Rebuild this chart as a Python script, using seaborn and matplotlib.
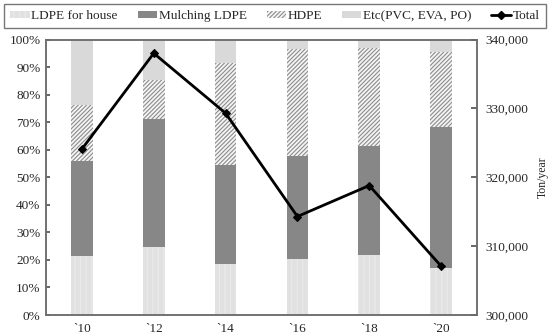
import numpy as np
import pandas as pd
import matplotlib
matplotlib.use("Agg")
import matplotlib.pyplot as plt
import seaborn as sns
from matplotlib.patches import Patch
from matplotlib.lines import Line2D

years = ["`10", "`12", "`14", "`16", "`18", "`20"]
ldpe_house = [21.5, 24.8, 18.4, 20.2, 21.6, 17.2]
mulching_ldpe = [34.5, 46.3, 36.1, 37.6, 39.9, 51.1]
hdpe = [20.4, 14.1, 37.0, 38.9, 35.5, 27.1]
etc = [23.6, 14.8, 8.5, 3.3, 3.0, 4.6]
total = [324100, 338000, 329300, 314300, 318800, 307100]

sns.set_theme(style="white")
plt.rcParams["font.family"] = ["Liberation Serif", "DejaVu Serif"]
plt.rcParams["hatch.linewidth"] = 0.8

df = pd.DataFrame({"year": years, "house": ldpe_house, "mulch": mulching_ldpe,
                   "hdpe": hdpe, "etc": etc, "total": total})
df["c1"] = df["house"]
df["c2"] = df["c1"] + df["mulch"]
df["c3"] = df["c2"] + df["hdpe"]
df["c4"] = df["c3"] + df["etc"]

fig = plt.figure(figsize=(5.5, 3.36), dpi=100)
ax = fig.add_axes([46/550, 21/336, (477-46)/550, (315-39.5)/336])

W = 0.3
HOUSE_C = "#e1e1e1"
HOUSE_H = "#eaeaea"
HATCH_C = "#8c8c8c"
sns.barplot(data=df, x="year", y="c4", ax=ax, color="#d9d9d9", width=W,
            saturation=1, linewidth=0)
sns.barplot(data=df, x="year", y="c3", ax=ax, color="#f4f4f4", width=W,
            saturation=1, linewidth=0, hatch="////////", edgecolor=HATCH_C)
sns.barplot(data=df, x="year", y="c2", ax=ax, color="#878787", width=W,
            saturation=1, linewidth=0)
sns.barplot(data=df, x="year", y="c1", ax=ax, color=HOUSE_C, width=W,
            saturation=1, linewidth=0, hatch="|||", edgecolor=HOUSE_H)

ax.set_xlim(-0.5, 5.5)
ax.set_ylim(0, 100)
ax.set_yticks(np.arange(0, 101, 10))
ax.set_yticklabels([f"{v}%" for v in range(0, 101, 10)])
ax.set_xlabel("")
ax.set_ylabel("")
ax.set_xticks(np.arange(len(years)))
ax.set_xticklabels(years)
ax.set_xticks(np.arange(0.5, len(years) - 1, 1), minor=True)
ax.tick_params(axis="x", which="major", length=0, pad=6, labelsize=9.5)
ax.tick_params(axis="x", which="minor", length=4, direction="in", color="#555555", width=1)
ax.tick_params(axis="y", length=3, direction="in", color="#555555", labelsize=9.5, pad=4)

ax2 = ax.twinx()
sns.lineplot(x=np.arange(len(years)), y=total, ax=ax2, color="black", linewidth=2,
             marker="D", markersize=4, markeredgecolor="black")
ax2.set_ylim(300000, 340000)
ax2.set_yticks(np.arange(300000, 340001, 10000))
ax2.set_yticklabels([f"{v:,}" for v in range(300000, 340001, 10000)])
ax2.tick_params(axis="y", length=4, direction="in", color="#555555", labelsize=9.5, pad=6)
ax2.set_ylabel("Ton/year", fontsize=8.5, labelpad=6)
ax2.set_xlim(-0.5, 5.5)

for a in (ax, ax2):
    for s in a.spines.values():
        s.set_color("#6e6e6e")
        s.set_linewidth(1.1)

handles = [
    Patch(facecolor=HOUSE_C, edgecolor=HOUSE_H, hatch="|||", linewidth=0, label="LDPE for house"),
    Patch(facecolor="#878787", linewidth=0, label="Mulching LDPE"),
    Patch(facecolor="#f4f4f4", edgecolor=HATCH_C, hatch="////////", linewidth=0, label="HDPE"),
    Patch(facecolor="#d9d9d9", linewidth=0, label="Etc(PVC, EVA, PO)"),
    Line2D([0], [0], color="black", linewidth=2, marker="D", markersize=4, label="Total"),
]
leg = fig.legend(handles=handles, loc="upper center", bbox_to_anchor=(0.5, 0.995),
                 ncol=5, frameon=True, fancybox=False, fontsize=9.5,
                 handlelength=1.45, handleheight=0.35, handletextpad=0.15,
                 columnspacing=1.5, borderpad=0.45, borderaxespad=0.2,
                 edgecolor="#555555")
leg.get_frame().set_linewidth(1.0)

fig.savefig("out.png", dpi=100)
